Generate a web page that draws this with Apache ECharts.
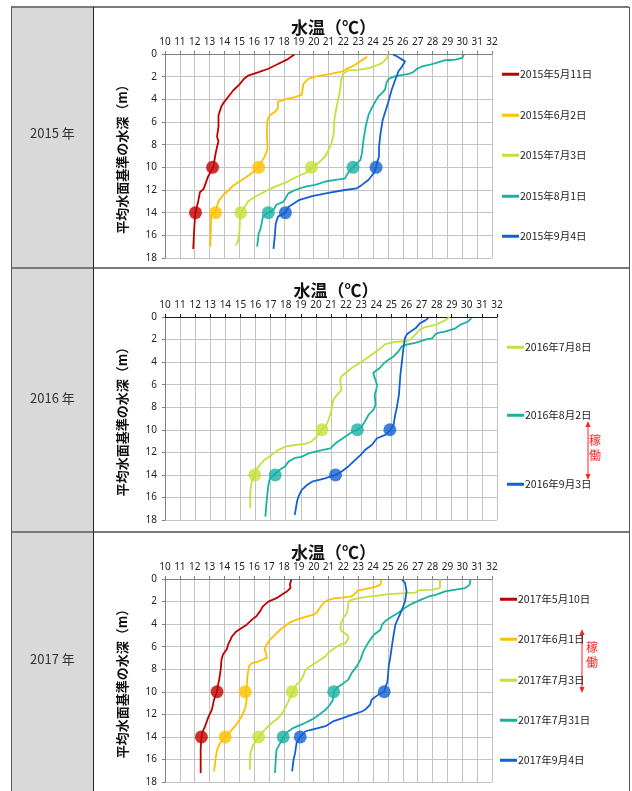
<!DOCTYPE html>
<html><head><meta charset="utf-8">
<script src="https://cdn.jsdelivr.net/npm/echarts@6/dist/echarts.min.js"></script>
<style>html,body{margin:0;padding:0;background:#fff}#c{width:632px;height:791px}</style>
</head><body><div id="c"></div>
<script>
// ---------------- DATA ----------------
const yearLabels = ['2015 年', '2016 年', '2017 年'];
const axisTitle = '水温（℃）';
const depthTitle = '平均水面基準の水深（m）';
const opLabel = '稼働';
const markerDepths = [10, 14];

const names2015 = ['2015年5月11日', '2015年6月2日', '2015年7月3日', '2015年8月1日', '2015年9月4日'];
const names2016 = ['2016年7月8日', '2016年8月2日', '2016年9月3日'];
const names2017 = ['2017年5月10日', '2017年6月1日', '2017年7月3日', '2017年7月31日', '2017年9月4日'];

// [temperature, depth]
const d2015_0511 = [[18.7,0.05],[18.2,0.5],[17.5,0.95],[16.95,1.3],[16.3,1.6],[15.6,1.9],[15.3,2.2],[15.0,2.7],[14.6,3.2],[14.3,3.7],[14.0,4.2],[13.8,4.6],[13.6,5.4],[13.6,6.4],[13.5,7.3],[13.6,7.7],[13.5,8.2],[13.4,8.8],[13.25,10],[12.9,10.8],[12.6,11.9],[12.35,12.2],[12.25,12.9],[12.05,14],[12.0,14.7],[11.95,15.8],[11.9,17.2]];
const d2015_0602 = [[23.6,0.25],[23.3,0.5],[22.8,0.95],[22.35,1.25],[21.9,1.55],[21.7,1.6],[21.0,1.8],[20.1,2.0],[19.65,2.2],[19.4,2.5],[19.3,2.7],[19.25,3.2],[19.2,3.6],[18.75,3.8],[18.1,4.0],[17.6,4.2],[17.6,4.6],[17.6,4.8],[17.4,5.1],[17.05,5.4],[16.9,5.8],[16.85,7.0],[16.9,8.2],[16.85,8.6],[16.7,9.05],[16.3,10],[15.85,10.5],[15.2,11.1],[14.6,11.6],[14.3,12.0],[13.95,12.4],[13.6,13.0],[13.35,14],[13.1,14.2],[13.1,14.7],[13.05,17.0]];
const d2015_0703 = [[25.0,0.05],[24.95,0.35],[24.6,0.8],[24.05,1.1],[23.7,1.25],[23.0,1.4],[22.35,1.45],[22.0,1.7],[21.85,2.3],[21.8,3.0],[21.7,3.75],[21.55,4.6],[21.4,5.8],[21.35,7.0],[21.2,7.9],[21.0,8.45],[20.8,9.0],[20.3,9.65],[19.9,10.0],[19.45,10.5],[18.75,10.9],[18.2,11.3],[17.4,11.7],[16.7,12.15],[16.05,12.6],[15.6,13.0],[15.3,13.6],[15.1,14],[15.05,14.4],[15.0,15.8],[14.9,16.6],[14.75,16.9]];
const d2015_0801 = [[30.1,0.05],[30.0,0.35],[29.55,0.5],[28.85,0.55],[28.2,0.8],[27.75,0.97],[27.3,1.1],[26.95,1.3],[26.7,1.6],[26.4,1.75],[25.7,1.9],[25.4,2.0],[25.05,2.2],[24.9,2.55],[24.8,3.15],[24.6,3.45],[24.35,3.75],[24.15,4.2],[23.9,4.8],[23.7,5.35],[23.5,6.4],[23.35,7.6],[23.25,8.75],[23.15,9.35],[22.8,9.8],[22.65,10],[22.35,10.4],[22.1,11.0],[21.45,11.1],[20.8,11.25],[20.1,11.55],[19.45,11.7],[18.75,12.0],[18.3,12.3],[18.1,12.75],[17.95,13.05],[17.5,13.3],[17.3,13.75],[16.95,14],[16.6,14.3],[16.5,14.95],[16.4,15.55],[16.3,15.85],[16.2,17.0]];
const d2015_0904 = [[25.35,0.05],[25.6,0.2],[26.15,0.65],[25.95,1.1],[25.7,1.55],[25.5,2.25],[25.25,3.15],[25.0,4.35],[24.65,5.8],[24.5,7.0],[24.4,8.2],[24.4,9.05],[24.25,9.65],[24.2,10],[24.05,10.5],[23.7,11.1],[23.25,11.55],[22.9,11.85],[22.1,12.0],[21.0,12.25],[19.9,12.55],[19.0,12.9],[18.3,13.5],[18.1,14],[17.6,14.35],[17.45,14.95],[17.4,15.85],[17.3,17.2]];

const d2016_0708 = [[28.85,0.0],[28.57,0.3],[27.9,0.7],[27.25,0.9],[26.9,1.1],[26.6,1.55],[26.25,2.0],[26.0,2.15],[25.25,2.2],[24.6,2.4],[24.35,2.7],[24.15,2.9],[23.7,3.35],[23.05,3.95],[22.4,4.5],[21.7,5.25],[21.6,5.55],[21.65,6.0],[21.7,6.45],[21.4,6.9],[21.15,7.35],[21.05,8.1],[20.95,8.65],[20.8,9.25],[20.65,9.7],[20.4,10],[20.05,10.6],[19.7,11.05],[19.3,11.25],[18.6,11.35],[17.95,11.5],[17.5,11.8],[17.05,12.25],[16.6,12.65],[16.3,13.1],[16.05,13.55],[15.95,14],[15.75,14.6],[15.65,15.5],[15.65,16.95]];
const d2016_0802 = [[30.3,0.1],[30.1,0.4],[29.55,0.7],[29.25,1.0],[28.55,1.3],[28.1,1.4],[27.9,1.55],[27.7,1.9],[27.25,2.0],[26.6,2.3],[26.0,2.45],[25.7,2.6],[25.5,3.0],[25.15,3.5],[24.8,3.8],[24.5,4.1],[24.25,4.5],[23.8,4.95],[23.7,5.1],[23.9,5.4],[24.05,6.0],[24.0,6.45],[23.9,6.9],[23.95,7.8],[23.8,8.25],[23.5,8.65],[23.25,9.25],[23.05,9.7],[22.75,10],[22.4,10.2],[21.95,10.6],[21.3,11.2],[20.95,11.65],[20.4,11.8],[19.5,12.1],[19.05,12.4],[18.6,12.5],[18.2,12.8],[17.95,13.25],[17.6,13.55],[17.3,13.9],[16.95,14.3],[16.85,14.9],[16.75,16.1],[16.65,17.7]];
const d2016_0903 = [[27.45,0.1],[27.25,0.3],[26.9,0.55],[26.6,1.0],[26.25,1.3],[26.05,1.5],[25.9,1.85],[25.8,2.75],[25.7,3.95],[25.6,5.1],[25.5,6.9],[25.35,8.1],[25.25,8.7],[25.15,9.55],[24.9,10.1],[24.6,10.45],[24.05,10.75],[23.7,11.35],[23.25,11.8],[22.95,12.25],[22.5,12.8],[22.15,13.25],[21.7,13.7],[21.3,14],[20.6,14.3],[19.75,14.6],[19.4,14.9],[19.05,15.35],[18.85,15.9],[18.75,16.35],[18.6,17.55]];

const d2017_0510 = [[18.5,0.05],[18.4,0.5],[18.45,0.8],[18.2,1.1],[17.95,1.3],[17.5,1.7],[16.95,2.0],[16.6,2.4],[16.4,2.85],[16.15,3.3],[15.85,3.6],[15.5,4.05],[15.15,4.35],[14.8,4.65],[14.5,5.1],[14.4,5.4],[14.25,5.8],[14.15,6.25],[13.9,6.7],[13.8,7.15],[13.75,8.0],[13.65,8.9],[13.55,9.5],[13.5,10],[13.3,10.7],[13.15,11.6],[12.9,12.3],[12.7,13.05],[12.5,13.65],[12.45,14],[12.4,15.1],[12.4,17.2]];
const d2017_0601 = [[24.55,0.05],[24.5,0.5],[24.15,0.7],[23.45,0.9],[23.0,1.0],[22.7,1.4],[22.55,1.55],[21.9,1.65],[21.45,1.7],[21.0,1.85],[20.8,2.0],[20.55,2.3],[20.35,2.7],[20.2,3.0],[20.0,3.15],[19.45,3.35],[18.85,3.6],[18.4,3.85],[18.1,4.15],[17.75,4.5],[17.4,4.95],[17.05,5.4],[16.85,5.8],[16.7,6.25],[16.8,6.6],[16.85,7.0],[16.3,7.3],[15.85,7.45],[15.65,7.75],[15.55,8.6],[15.5,9.5],[15.45,10],[15.5,10.7],[15.4,11.45],[15.15,12.2],[14.8,12.9],[14.5,13.35],[14.05,14],[13.7,14.55],[13.5,15.15],[13.4,16.0],[13.3,17.05]];
const d2017_0703 = [[28.5,0.05],[28.5,0.8],[27.95,0.95],[27.05,1.0],[26.85,1.2],[26.15,1.25],[25.05,1.35],[24.15,1.5],[23.45,1.6],[23.0,1.7],[22.55,1.85],[22.35,2.0],[22.3,2.55],[22.25,3.0],[22.0,3.45],[21.85,3.9],[21.8,4.35],[21.9,4.65],[22.25,4.95],[22.35,5.2],[22.15,5.7],[21.8,5.8],[21.45,6.1],[21.1,6.4],[20.8,6.85],[20.3,7.3],[19.75,7.75],[19.45,8.05],[19.3,8.6],[19.1,9.05],[18.85,9.35],[18.6,10],[18.4,10.55],[18.2,11.15],[17.95,11.75],[17.65,12.3],[17.2,12.75],[16.85,13.2],[16.5,13.65],[16.3,14],[15.95,14.7],[15.75,15.4],[15.7,16.9]];
const d2017_0731 = [[30.55,0.05],[30.5,0.5],[30.2,0.8],[29.55,0.95],[28.85,1.1],[28.2,1.4],[27.75,1.55],[27.2,1.85],[26.6,2.2],[26.15,2.55],[25.7,3.0],[25.25,3.35],[24.8,3.75],[24.6,4.05],[24.5,4.5],[24.05,4.95],[23.8,5.4],[23.6,5.8],[23.35,6.4],[23.15,7.15],[22.9,7.75],[22.55,8.35],[22.35,8.9],[21.9,9.35],[21.55,9.65],[21.35,10],[21.3,10.7],[21.1,11.15],[20.8,11.6],[20.35,12.05],[19.9,12.45],[19.45,12.75],[19.0,13.0],[18.65,13.2],[18.3,13.5],[17.95,14],[17.75,14.55],[17.5,15.15],[17.45,16.0],[17.4,17.2]];
const d2017_0904 = [[25.95,0.05],[26.15,0.35],[26.25,1.1],[26.2,1.55],[26.15,2.0],[25.95,2.7],[25.7,3.45],[25.5,4.05],[25.4,4.8],[25.3,5.65],[25.15,7.0],[25.05,7.75],[25.0,8.65],[24.95,9.2],[24.85,9.5],[24.75,10],[24.35,10.25],[23.9,10.7],[23.8,11.15],[23.45,11.6],[23.25,11.75],[22.55,12.05],[21.9,12.35],[21.35,12.6],[20.8,13.05],[19.9,13.35],[19.45,13.5],[19.1,14],[18.85,14.55],[18.75,15.45],[18.65,16.0],[18.55,17.05]];

// marker temperatures at depths 10 m and 14 m
const mk2015_10 = [13.2, 16.3, 19.85, 22.65, 24.2];
const mk2015_14 = [12.05, 13.4, 15.1, 16.95, 18.1];
const mk2016_10 = [20.4, 22.75, 24.9];
const mk2016_14 = [15.95, 17.3, 21.3];
const mk2017_10 = [13.5, 15.4, 18.55, 21.35, 24.75];
const mk2017_14 = [12.45, 14.05, 16.3, 17.95, 19.1];

// ---------------- STYLE / LAYOUT ----------------
const C = {red:'#C00000', orange:'#FFC000', lime:'#C5E03A', teal:'#19B2A2', blue:'#1460D2'};
const colors2015 = [C.red, C.orange, C.lime, C.teal, C.blue];
const colors2016 = [C.lime, C.teal, C.blue];
const colors2017 = [C.red, C.orange, C.lime, C.teal, C.blue];

const panels = [
  {names:names2015, data:[d2015_0511,d2015_0602,d2015_0703,d2015_0801,d2015_0904], colors:colors2015,
   mk:[mk2015_10, mk2015_14], grid:{left:165, top:54, width:327, height:204}, axisColor:'#7f7f7f',
   titleTop:14, legendLeft:502, legendY:[76,117,157,198,238]},
  {names:names2016, data:[d2016_0708,d2016_0802,d2016_0903], colors:colors2016,
   mk:[mk2016_10, mk2016_14], grid:{left:165, top:317, width:332, height:203}, axisColor:'#1a1a1a',
   titleTop:277, legendLeft:507, legendY:[349,417,486]},
  {names:names2017, data:[d2017_0510,d2017_0601,d2017_0703,d2017_0731,d2017_0904], colors:colors2017,
   mk:[mk2017_10, mk2017_14], grid:{left:165, top:579, width:327, height:203}, axisColor:'#7f7f7f',
   titleTop:539, legendLeft:500, legendY:[601,641,682,722,762]}
];

const FONT = 'Noto Sans, Noto Sans CJK JP, sans-serif';
const CJK = 'Noto Sans CJK JP, sans-serif';

const grid = [], xAxis = [], yAxis = [], series = [], legend = [], title = [];
panels.forEach((p, i) => {
  grid.push(Object.assign({containLabel:false}, p.grid));
  xAxis.push({
    type:'value', gridIndex:i, position:'top', min:10, max:32, interval:1,
    axisLine:{show:true, onZero:false, lineStyle:{color:p.axisColor, width:1}},
    axisTick:{show:true, length:3, lineStyle:{color:p.axisColor}},
    axisLabel:{fontSize:10, color:'#222', margin:7, fontFamily:FONT},
    splitLine:{show:true, lineStyle:{color:'#c3c3c3', width:1}}
  });
  yAxis.push({
    type:'value', gridIndex:i, inverse:true, min:0, max:18, interval:2,
    name:depthTitle, nameLocation:'middle', nameGap:36, nameRotate:90,
    nameTextStyle:{fontSize:13, fontWeight:'bold', color:'#111', fontFamily:CJK},
    axisLine:{show:true, onZero:false, lineStyle:{color:'#7f7f7f'}},
    axisTick:{show:true, length:3, lineStyle:{color:'#7f7f7f'}},
    axisLabel:{fontSize:10, color:'#222', margin:8, fontFamily:FONT},
    splitLine:{show:true, lineStyle:{color:'#c3c3c3', width:1}}
  });
  title.push({
    text:axisTitle, left:p.grid.left + p.grid.width/2, top:p.titleTop, textAlign:'center',
    textStyle:{fontSize:17, fontWeight:'bold', color:'#111', fontFamily:CJK}
  });
  p.names.forEach((nm, k) => {
    series.push({
      type:'line', name:nm, xAxisIndex:i, yAxisIndex:i, data:p.data[k],
      showSymbol:false, symbol:'none', color:p.colors[k],
      lineStyle:{width:1.8, color:p.colors[k]}, z:3, animation:false
    });
    legend.push({
      data:[nm], orient:'vertical', left:p.legendLeft, top:p.legendY[k]-7,
      icon:'rect', itemWidth:17, itemHeight:3, selectedMode:false, padding:0,
      textStyle:{fontSize:10.5, color:'#222', fontFamily:CJK, padding:[0,0,0,-4]}
    });
  });
  const pts = [];
  markerDepths.forEach((dep, j) => {
    p.mk[j].forEach((t, k) => pts.push({value:[t, dep], itemStyle:{color:p.colors[k]}}));
  });
  series.push({
    type:'scatter', xAxisIndex:i, yAxisIndex:i, data:pts, symbol:'circle', symbolSize:13,
    z:5, animation:false, silent:true
  });
});

// table frame & annotations
const graphic = [
  {type:'rect', shape:{x:11, y:7, width:82, height:784}, style:{fill:'#d9d9d9'}, z:-10, silent:true},
  {type:'line', shape:{x1:11, y1:7, x2:629, y2:7}, style:{stroke:'#7a7a7a', lineWidth:2}, silent:true},
  {type:'line', shape:{x1:11, y1:268, x2:629, y2:268}, style:{stroke:'#7a7a7a', lineWidth:2}, silent:true},
  {type:'line', shape:{x1:11, y1:532, x2:629, y2:532}, style:{stroke:'#7a7a7a', lineWidth:2}, silent:true},
  {type:'line', shape:{x1:11.5, y1:7, x2:11.5, y2:791}, style:{stroke:'#555', lineWidth:1}, silent:true},
  {type:'line', shape:{x1:93.5, y1:7, x2:93.5, y2:791}, style:{stroke:'#222', lineWidth:1}, silent:true},
  {type:'line', shape:{x1:629.5, y1:7, x2:629.5, y2:791}, style:{stroke:'#555', lineWidth:1}, silent:true}
];
const yearY = [136, 401, 662];
yearLabels.forEach((t, i) => graphic.push({
  type:'text', left:52 - 22, top:yearY[i] - 9, silent:true,
  style:{text:t, fontSize:13, fill:'#333', fontFamily:CJK}
}));
function arrow(x, y1, y2, tx, ty) {
  graphic.push({type:'line', shape:{x1:x, y1:y1+4, x2:x, y2:y2-4}, style:{stroke:'#ff2020', lineWidth:1}, silent:true});
  graphic.push({type:'polygon', shape:{points:[[x,y1],[x-2.5,y1+6],[x+2.5,y1+6]]}, style:{fill:'#ff2020'}, silent:true});
  graphic.push({type:'polygon', shape:{points:[[x,y2],[x-2.5,y2-6],[x+2.5,y2-6]]}, style:{fill:'#ff2020'}, silent:true});
  graphic.push({type:'text', left:tx, top:ty, silent:true,
    style:{text:opLabel.split('').join('\n'), fontSize:12, lineHeight:15, fill:'#ff2020', fontFamily:CJK}});
}
arrow(588, 421, 480, 589, 433);
arrow(582, 629, 693, 586, 640);

const chart = echarts.init(document.getElementById('c'), null, {renderer:'canvas'});
chart.setOption({
  animation:false, backgroundColor:'#fff',
  title, grid, xAxis, yAxis, series, legend, graphic
});
</script></body></html>
